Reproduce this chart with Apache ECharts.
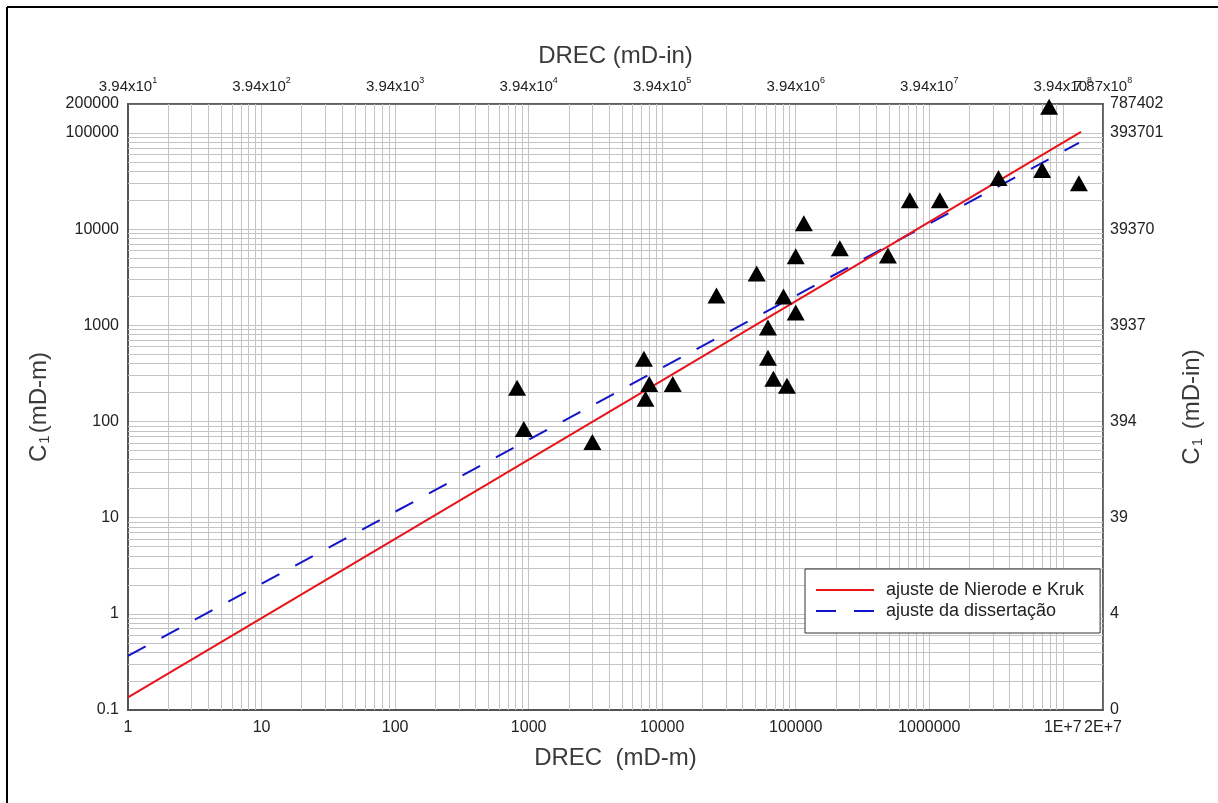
<!DOCTYPE html>
<html>
<head>
<meta charset="utf-8">
<title>C1 x DREC</title>
<script src="https://cdn.jsdelivr.net/npm/echarts@6/dist/echarts.min.js"></script>
<style>
    html, body { margin: 0; padding: 0; background: #ffffff; }
    #grafico { width: 1218px; height: 803px; }
</style>
</head>
<body>
<div id="grafico"></div>
<script>
// pontos medidos (DREC em mD-m, C1 em mD-m)
const drecPontos = [820, 920, 3000, 7300, 8000, 7500, 12000, 25500, 51000, 62000, 62000, 68000, 86000, 81000,
    100000, 100000, 115000, 214000, 490000, 715000, 1200000, 3300000, 7000000, 7900000, 13200000];
const c1Pontos = [224, 83.5, 61, 449, 246, 172, 246, 2040, 3460, 946, 460, 278, 235, 1990,
    5210, 1355, 11500, 6310, 5330, 20000, 20000, 34000, 41100, 187000, 30000];

// retas de ajuste (extremos)
const nierodeX = [1, 13700000];
const nierodeY = [0.135, 102600];
const dissertacaoX = [1, 13200000];
const dissertacaoY = [0.366, 78700];

// rotulos dos eixos
const xTickValues = [1, 10, 100, 1000, 10000, 100000, 1000000, 10000000, 20000000];
const xTickLabels = ['1', '10', '100', '1000', '10000', '100000', '1000000', '1E+7', '2E+7'];
const xTopLabels = ['3.94x10^1', '3.94x10^2', '3.94x10^3', '3.94x10^4', '3.94x10^5',
    '3.94x10^6', '3.94x10^7', '3.94x10^8', '7.87x10^8'];
const yTickValues = [0.1, 1, 10, 100, 1000, 10000, 100000, 200000];
const yTickLabels = ['0.1', '1', '10', '100', '1000', '10000', '100000', '200000'];
const yRightLabels = ['0', '4', '39', '394', '3937', '39370', '393701', '787402'];

const fonte = '"Liberation Sans", Arial, sans-serif';
const xMax = xTickValues[xTickValues.length - 1];

// linhas secundarias da grade log (2..9 de cada decada)
function linhasMenores(min, max) {
    const vals = [];
    for (let k = Math.floor(Math.log10(min)); k <= Math.ceil(Math.log10(max)); k++) {
        for (let m = 2; m <= 9; m++) {
            const v = m * Math.pow(10, k);
            if (v > min && v < max) vals.push(v);
        }
    }
    return vals;
}

function rotulo(values, labels) {
    return (v) => {
        const i = values.findIndex(t => Math.abs(Math.log10(t) - Math.log10(v)) < 0.02);
        return i < 0 ? '' : labels[i];
    };
}

// rotulo com expoente (3.94x10^n)
function rotuloTopo(v, soMax) {
    const perto = Math.abs(Math.log10(v) - Math.log10(xMax)) < 0.02;
    if (soMax !== perto) return '';
    const txt = rotulo(xTickValues, xTopLabels)(v);
    if (!txt) return '';
    const partes = txt.split('^');
    return '{b|' + partes[0] + '}{s|' + partes[1] + '}';
}

const chart = echarts.init(document.getElementById('grafico'));

const nomeStyle = {
    fontFamily: fonte,
    fontSize: 24,
    color: '#3a3a3a'
};
const rotuloStyle = {
    fontFamily: fonte,
    fontSize: 16,
    color: '#222'
};
const richTopo = {
    b: { fontFamily: fonte, fontSize: 15, color: '#222', lineHeight: 18, verticalAlign: 'bottom' },
    s: { fontFamily: fonte, fontSize: 9, color: '#222', lineHeight: 18, verticalAlign: 'top', padding: [0, 0, 6, 0] }
};
const richNome = {
    s: { fontFamily: fonte, fontSize: 15, color: '#3a3a3a', verticalAlign: 'bottom', padding: [10, 2, 0, 1] }
};

const option = {
    animation: false,
    backgroundColor: '#ffffff',
    graphic: [
        { type: 'line', shape: { x1: 7, y1: 7, x2: 7, y2: 803 }, style: { stroke: '#000', lineWidth: 2 } },
        { type: 'line', shape: { x1: 7, y1: 7, x2: 1218, y2: 7 }, style: { stroke: '#000', lineWidth: 2 } }
    ],
    grid: {
        left: 128,
        right: 115,
        top: 104,
        bottom: 93,
        show: true,
        borderColor: '#555',
        borderWidth: 1.5
    },
    legend: {
        data: ['ajuste de Nierode e Kruk', 'ajuste da dissertação'],
        orient: 'vertical',
        left: 805,
        top: 569,
        padding: [12, 16, 13, 10],
        itemWidth: 58,
        itemHeight: 2,
        itemGap: 3,
        backgroundColor: '#ffffff',
        borderColor: '#333',
        borderWidth: 1,
        borderRadius: 0,
        z: 6,
        itemStyle: { opacity: 0 },
        textStyle: {
            fontFamily: fonte,
            fontSize: 18,
            color: '#222',
            padding: [0, 0, 0, 7]
        }
    },
    xAxis: [
        {
            type: 'log',
            min: 1,
            max: xMax,
            position: 'bottom',
            name: 'DREC  (mD-m)',
            nameLocation: 'middle',
            nameGap: 36,
            nameTextStyle: nomeStyle,
            axisLine: { lineStyle: { color: '#555', width: 2 } },
            axisTick: { show: false },
            axisLabel: Object.assign({ margin: 10, showMaxLabel: true, showMinLabel: true, hideOverlap: false,
                formatter: rotulo(xTickValues, xTickLabels) }, rotuloStyle),
            splitLine: { show: true, lineStyle: { color: '#c4c4c4', width: 1 } }
        },
        {
            type: 'log',
            min: 1,
            max: xMax,
            position: 'top',
            name: 'DREC (mD-in)',
            nameLocation: 'middle',
            nameGap: 36,
            nameTextStyle: nomeStyle,
            axisLine: { lineStyle: { color: '#555', width: 1.5 } },
            axisTick: { show: false },
            axisLabel: {
                margin: 10,
                showMaxLabel: false,
                showMinLabel: true,
                hideOverlap: false,
                formatter: v => rotuloTopo(v, false),
                rich: richTopo
            },
            splitLine: { show: false }
        },
        {
            // so o rotulo do maximo (7.87x10^8), sobreposto como no original
            type: 'log',
            min: 1,
            max: xMax,
            position: 'top',
            axisLine: { show: false },
            axisTick: { show: false },
            axisLabel: {
                margin: 10,
                showMaxLabel: true,
                showMinLabel: false,
                hideOverlap: false,
                formatter: v => rotuloTopo(v, true),
                rich: richTopo
            },
            splitLine: { show: false }
        }
    ],
    yAxis: [
        {
            type: 'log',
            min: 0.1,
            max: 200000,
            position: 'left',
            name: 'C{s|1}(mD-m)',
            nameLocation: 'middle',
            nameRotate: 90,
            nameGap: 76,
            nameTextStyle: Object.assign({ rich: richNome }, nomeStyle),
            axisLine: { lineStyle: { color: '#555', width: 2 } },
            axisTick: { show: false },
            axisLabel: Object.assign({ margin: 9, showMaxLabel: true, showMinLabel: true, hideOverlap: false,
                formatter: rotulo(yTickValues, yTickLabels) }, rotuloStyle),
            splitLine: { show: true, lineStyle: { color: '#c4c4c4', width: 1 } }
        },
        {
            type: 'log',
            min: 0.1,
            max: 200000,
            position: 'right',
            name: 'C{s|1} (mD-in)',
            nameLocation: 'middle',
            nameRotate: 90,
            nameGap: 77,
            nameTextStyle: Object.assign({ rich: richNome }, nomeStyle),
            axisLine: { lineStyle: { color: '#555', width: 1.5 } },
            axisTick: { show: false },
            axisLabel: Object.assign({ margin: 7, showMaxLabel: true, showMinLabel: true, hideOverlap: false,
                formatter: rotulo(yTickValues, yRightLabels) }, rotuloStyle),
            splitLine: { show: false }
        }
    ],
    series: [
        {
            // grade secundaria
            name: 'grade',
            type: 'scatter',
            data: [],
            silent: true,
            z: 1,
            markLine: {
                silent: true,
                z: 1,
                symbol: 'none',
                label: { show: false },
                animation: false,
                emphasis: { disabled: true },
                lineStyle: { color: '#c4c4c4', width: 1, type: 'solid' },
                data: linhasMenores(1, xMax).map(v => ({ xAxis: v }))
                    .concat(linhasMenores(0.1, 200000).map(v => ({ yAxis: v })))
            }
        },
        {
            name: 'ajuste de Nierode e Kruk',
            type: 'line',
            data: nierodeX.map((x, i) => [x, nierodeY[i]]),
            symbol: 'none',
            z: 3,
            lineStyle: { color: '#e8141a', width: 2 },
            itemStyle: { color: '#e8141a' }
        },
        {
            name: 'ajuste da dissertação',
            type: 'line',
            data: dissertacaoX.map((x, i) => [x, dissertacaoY[i]]),
            symbol: 'none',
            z: 2,
            lineStyle: { color: '#1414c8', width: 2, type: [20, 18] },
            itemStyle: { color: '#1414c8' }
        },
        {
            name: 'dados',
            type: 'scatter',
            data: drecPontos.map((x, i) => [x, c1Pontos[i]]),
            symbol: 'triangle',
            symbolSize: [18, 16],
            z: 4,
            itemStyle: { color: '#000000', opacity: 1 }
        }
    ]
};

chart.setOption(option);
</script>
</body>
</html>
